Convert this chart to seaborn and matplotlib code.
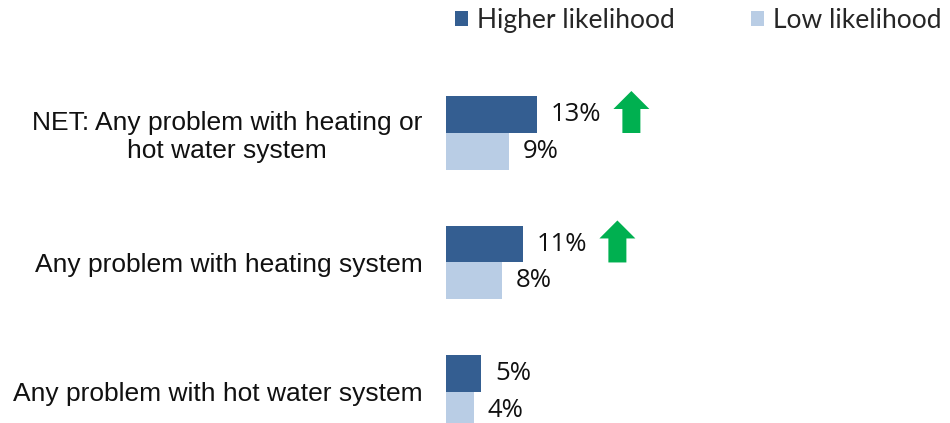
import matplotlib
matplotlib.use("Agg")
import matplotlib.pyplot as plt
import matplotlib.transforms as mtransforms
from matplotlib.patches import Patch, Polygon
import seaborn as sns
import pandas as pd

# Survey items (y categories) and shares per likelihood group
items = [
    "NET: Any problem with heating or\nhot water system",
    "Any problem with heating system",
    "Any problem with hot water system",
]
groups = ["Higher likelihood", "Low likelihood"]
higher = [13, 11, 5]
low = [9, 8, 4]
# Significantly higher than the low-likelihood group
sig_up = [True, True, False]

colors = ["#345E91", "#B9CDE5"]
arrow_color = "#00B050"

df = pd.DataFrame({
    "item": items * 2,
    "group": [groups[0]] * len(items) + [groups[1]] * len(items),
    "value": higher + low,
})

sns.set_theme(style="white")
plt.rcParams["font.family"] = ["Liberation Sans", "DejaVu Sans"]

fig = plt.figure(figsize=(9.5, 4.23), dpi=100)
ax = fig.add_axes([446 / 950, 0.0, 504 / 950, 1 - 68 / 423])

sns.barplot(data=df, y="item", x="value", hue="group", orient="h",
            palette=colors, width=0.57, errorbar=None, saturation=1,
            linewidth=0, edgecolor="none", ax=ax, legend=False)

ax.set_xlim(0, 72)
ax.set_ylim(2.24, -0.502)
ax.set_xlabel("")
ax.set_ylabel("")
ax.set_xticks([])
for s in ax.spines.values():
    s.set_visible(False)
ax.tick_params(axis="y", length=0, pad=17, labelsize=19, colors="#111111")
for lbl in ax.get_yticklabels():
    lbl.set_multialignment("center")

# Value labels at the end of each bar
label_texts = []
for cont in ax.containers:
    texts = ax.bar_label(cont, fmt="%.0f%%", padding=10, fontsize=18.5,
                         family=["Open Sans", "DejaVu Sans"], color="#111111")
    label_texts.append(texts)

# Legend across the top
handles = [Patch(facecolor=c, edgecolor="none") for c in colors]
fig.legend(handles, groups, ncol=2, loc="upper left",
           bbox_to_anchor=(455 / 950, 1 - 8 / 423),
           bbox_transform=fig.transFigure, frameon=False,
           borderpad=0, borderaxespad=0, handlelength=0.5,
           handleheight=0.5, handletextpad=0.32, columnspacing=2.9,
           prop={"family": ["Lato", "DejaVu Sans"], "size": 19})

# Green up-arrows next to significantly higher values
fig.canvas.draw()
renderer = fig.canvas.get_renderer()
inv = ax.transData.inverted()
arrow_shape = [(-9, 0), (9, 0), (9, 24), (18, 24), (0, 42), (-18, 24), (-9, 24)]
for i, flag in enumerate(sig_up):
    if not flag:
        continue
    bb = label_texts[0][i].get_window_extent(renderer)
    x_data = inv.transform((bb.x1 + 12 + 18, 0))[0]
    trans = mtransforms.Affine2D() + mtransforms.ScaledTranslation(
        x_data, i, ax.transData)
    ax.add_patch(Polygon(arrow_shape, closed=True, facecolor=arrow_color,
                         edgecolor="none", transform=trans, clip_on=False))

fig.savefig("out.png", dpi=100)
